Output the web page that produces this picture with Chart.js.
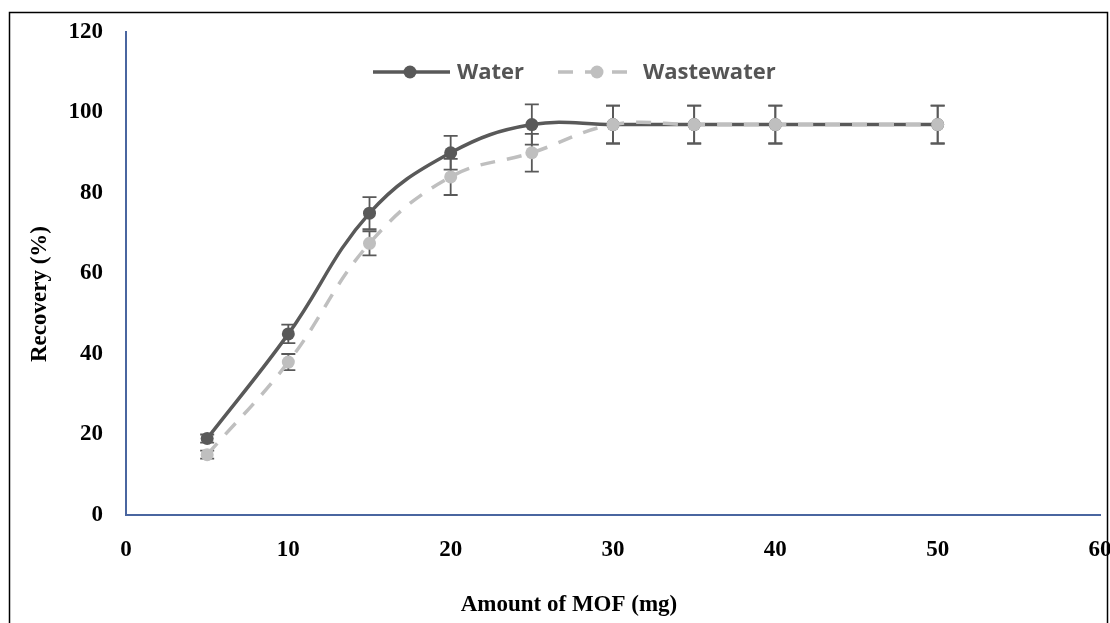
<!DOCTYPE html>
<html>
<head>
<meta charset="utf-8">
<script src="https://cdn.jsdelivr.net/npm/chart.js@4.4.0/dist/chart.umd.min.js"></script>
<style>
  html, body { margin: 0; padding: 0; background: #ffffff; }
  #wrap { position: relative; width: 1110px; height: 623px; }
  canvas { display: block; }
</style>
</head>
<body>
<div id="wrap"><canvas id="c" width="1110" height="623"></canvas></div>
<script>
// ---- data ----
const mofAmounts = [5, 10, 15, 20, 25, 30, 35, 40, 50];
const waterRecovery = [19, 45, 75, 90, 97, 97, 97, 97, 97];
const wastewaterRecovery = [15, 38, 67.5, 84, 90, 97, 97, 97, 97];
const waterError = [1, 2.3, 4, 4.2, 5, 4.7, 4.7, 4.7, 4.7];
const wastewaterError = [1, 2, 3, 4.5, 4.7, 4.7, 4.7, 4.7, 4.7];
const seriesNames = ['Water', 'Wastewater'];
const xTitle = 'Amount of MOF (mg)';
const yTitle = 'Recovery (%)';

const darkGray = '#595959';
const lightGray = '#bfbfbf';
const axisBlue = '#4a66a0';

const toPoints = (ys, errs) => mofAmounts.map((x, i) => ({ x: x, y: ys[i], err: errs[i] }));

// error bars plugin
const errorBars = {
  id: 'errorBars',
  beforeDatasetsDraw(chart) {
    const ctx = chart.ctx;
    const ys = chart.scales.y;
    ctx.save();
    ctx.strokeStyle = darkGray;
    ctx.lineWidth = 1.8;
    chart.data.datasets.forEach((ds, di) => {
      const meta = chart.getDatasetMeta(di);
      meta.data.forEach((pt, i) => {
        const d = ds.data[i];
        const top = ys.getPixelForValue(d.y + d.err);
        const bot = ys.getPixelForValue(d.y - d.err);
        const x = pt.x;
        ctx.beginPath();
        ctx.moveTo(x, top); ctx.lineTo(x, bot);
        ctx.moveTo(x - 7, top); ctx.lineTo(x + 7, top);
        ctx.moveTo(x - 7, bot); ctx.lineTo(x + 7, bot);
        ctx.stroke();
      });
    });
    ctx.restore();
  }
};

// frame, legend and axis titles
const decorations = {
  id: 'decorations',
  afterDraw(chart) {
    const ctx = chart.ctx;
    ctx.save();
    // outer frame
    ctx.strokeStyle = '#000';
    ctx.lineWidth = 1.5;
    ctx.strokeRect(9.5, 12.5, 1098, 640);

    // legend
    const ly = 72;
    const items = [
      { name: seriesNames[0], color: darkGray, dash: [], x0: 373, x1: 450, mx: 410, tx: 457 },
      { name: seriesNames[1], color: lightGray, dash: [15, 12], x0: 558, x1: 636, mx: 597, tx: 643 }
    ];
    items.forEach(it => {
      ctx.strokeStyle = it.color;
      ctx.lineWidth = 3.5;
      ctx.setLineDash(it.dash);
      ctx.beginPath();
      ctx.moveTo(it.x0, ly); ctx.lineTo(it.x1, ly);
      ctx.stroke();
      ctx.setLineDash([]);
      ctx.fillStyle = it.color;
      ctx.beginPath();
      ctx.arc(it.mx, ly, 6.5, 0, Math.PI * 2);
      ctx.fill();
      ctx.fillStyle = '#555555';
      ctx.font = "bold 22px 'Open Sans', sans-serif";
      ctx.textAlign = 'left';
      ctx.textBaseline = 'middle';
      ctx.fillText(it.name, it.tx, ly + 1);
    });

    // axis titles
    ctx.fillStyle = '#000';
    ctx.font = "bold 23px 'Liberation Serif', 'Times New Roman', serif";
    ctx.textAlign = 'center';
    ctx.textBaseline = 'middle';
    ctx.fillText(xTitle, 569, 605);
    ctx.translate(40, 294);
    ctx.rotate(-Math.PI / 2);
    ctx.fillText(yTitle, 0, 0);
    ctx.restore();
  }
};

new Chart(document.getElementById('c'), {
  type: 'line',
  data: {
    datasets: [
      {
        label: seriesNames[0],
        data: toPoints(waterRecovery, waterError),
        borderColor: darkGray,
        backgroundColor: darkGray,
        borderWidth: 3.5,
        pointRadius: 6.5,
        pointBackgroundColor: darkGray,
        pointBorderWidth: 0,
        tension: 0.4,
        order: 2
      },
      {
        label: seriesNames[1],
        data: toPoints(wastewaterRecovery, wastewaterError),
        borderColor: lightGray,
        backgroundColor: lightGray,
        borderWidth: 3.5,
        borderDash: [15, 12],
        pointRadius: 6.5,
        pointBackgroundColor: lightGray,
        pointBorderWidth: 0,
        tension: 0.4,
        order: 1
      }
    ]
  },
  options: {
    responsive: false,
    animation: false,
    devicePixelRatio: 1,
    layout: { padding: { left: 0, top: 32, right: 10, bottom: 0 } },
    plugins: {
      legend: { display: false },
      tooltip: { enabled: false }
    },
    scales: {
      x: {
        type: 'linear',
        min: 0,
        max: 60,
        ticks: {
          stepSize: 10,
          color: '#000',
          font: { family: "'Liberation Serif', 'Times New Roman', serif", size: 23, weight: 'bold' },
          padding: 13,
          maxRotation: 0
        },
        grid: { display: false },
        border: { display: true, color: axisBlue, width: 2 },
        afterFit(scale) { scale.height = 108; scale.paddingRight = 0; scale.paddingLeft = 0; }
      },
      y: {
        min: 0,
        max: 120,
        ticks: {
          stepSize: 20,
          color: '#000',
          font: { family: "'Liberation Serif', 'Times New Roman', serif", size: 23, weight: 'bold' },
          padding: 15
        },
        grid: { display: false },
        border: { display: true, color: axisBlue, width: 2 },
        afterFit(scale) { scale.width = 126; }
      }
    }
  },
  plugins: [errorBars, decorations]
});
</script>
</body>
</html>
